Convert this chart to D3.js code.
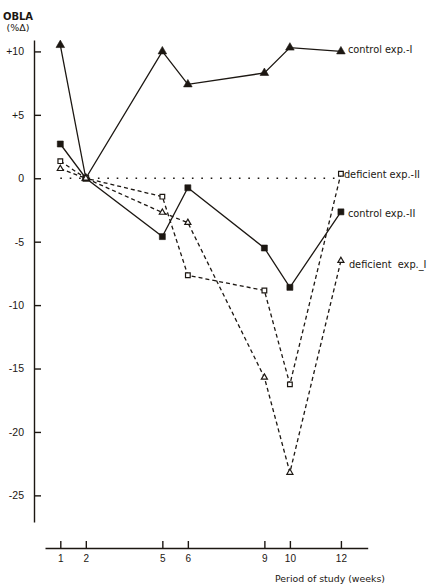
<!DOCTYPE html>
<html>
<head>
<meta charset="utf-8">
<script src="https://cdn.jsdelivr.net/npm/d3@7/dist/d3.min.js"></script>
<style>
  html, body { margin: 0; padding: 0; background: #fff; }
  svg { display: block; font-family: "Liberation Sans", Arial, sans-serif; }
</style>
</head>
<body>
<div id="chart"></div>
<script>
// weeks of study
var weeks = [1, 2, 5, 6, 9, 10, 12];

// OBLA (% change) per series
var controlExpI = [10.5, 0, 10.0, 7.4, 8.3, 10.3, 10.0];
var controlExpII = [2.7, 0, -4.6, -0.75, -5.5, -8.6, -2.65];
var deficientExpII = [1.35, 0, -1.45, -7.65, -8.85, -16.25, 0.35];
var deficientExpI = [0.75, 0, -2.7, -3.5, -15.7, -23.2, -6.5];

var yTicks = [10, 5, 0, -5, -10, -15, -20, -25];
var seriesLabels = ['control exp.-I', 'control exp.-II', 'deficient exp.-II', 'deficient  exp._I'];

(function() {
    'use strict';

    var W = 436, H = 587;
    var ink = '#1c1712';
    var labelFont = '"DejaVu Sans", Verdana, sans-serif';

    var svg = d3.select('#chart').append('svg')
        .attr('width', W).attr('height', H);

    // scales
    var x = d3.scaleLinear().domain([0.4, 13.05]).range([45, 367.7]);
    var y = d3.scaleLinear().domain([-27.1, 10.9]).range([522, 40]);

    // y axis
    var yAxis = d3.axisLeft(y)
        .tickValues(yTicks)
        .tickSize(-7)
        .tickSizeOuter(0)
        .tickPadding(10)
        .tickFormat(function(v) { return v > 0 ? '+' + v : (v < 0 ? '-' + Math.abs(v) : '0'); });

    var gy = svg.append('g').attr('transform', 'translate(34,0)').call(yAxis);
    gy.select('.domain').attr('stroke', ink).attr('stroke-width', 1.4);
    gy.selectAll('.tick line').attr('stroke', ink).attr('stroke-width', 1.4);
    gy.selectAll('.tick text').attr('fill', ink).attr('font-size', '10.5px')
        .attr('font-family', '"Liberation Sans", Arial, sans-serif');

    // x axis (ticks point up, labels below)
    var xAxis = d3.axisBottom(x)
        .tickValues(weeks)
        .tickSize(-7)
        .tickSizeOuter(0)
        .tickPadding(7)
        .tickFormat(d3.format('d'));

    var gx = svg.append('g').attr('transform', 'translate(0,548)').call(xAxis);
    gx.select('.domain').attr('stroke', ink).attr('stroke-width', 1.4);
    gx.selectAll('.tick line').attr('stroke', ink).attr('stroke-width', 1.4);
    gx.selectAll('.tick text').attr('fill', ink).attr('font-size', '10px')
        .attr('font-family', '"Liberation Sans", Arial, sans-serif');

    svg.append('text')
        .attr('x', 385).attr('y', 582)
        .attr('text-anchor', 'end')
        .attr('font-family', labelFont)
        .attr('font-size', '9.4px').attr('fill', ink)
        .text('Period of study (weeks)');

    // y title
    svg.append('text').attr('x', 18).attr('y', 20)
        .attr('text-anchor', 'middle').attr('font-size', '10px')
        .attr('font-family', labelFont)
        .attr('font-weight', 'bold').attr('fill', ink).text('OBLA');
    svg.append('text').attr('x', 18).attr('y', 31)
        .attr('text-anchor', 'middle').attr('font-size', '9.5px')
        .attr('font-family', labelFont)
        .attr('fill', ink).text('(%\u0394)');

    // zero reference, dotted
    svg.append('line')
        .attr('x1', x(weeks[0])).attr('x2', x(weeks[weeks.length - 1]))
        .attr('y1', y(0)).attr('y2', y(0))
        .attr('stroke', ink).attr('stroke-width', 1.5)
        .attr('stroke-dasharray', '1.6,7.8');

    var series = [
        {vals: controlExpI, dash: null, sym: d3.symbolTriangle, size: 32, filled: true, label: seriesLabels[0], lx: 7, ly: 2},
        {vals: controlExpII, dash: null, sym: d3.symbolSquare, size: 36, filled: true, label: seriesLabels[1], lx: 7, ly: 5},
        {vals: deficientExpII, dash: '4,3', sym: d3.symbolSquare, size: 22, filled: false, label: seriesLabels[2], lx: 3, ly: 4},
        {vals: deficientExpI, dash: '4,3', sym: d3.symbolTriangle, size: 16, filled: false, label: seriesLabels[3], lx: 8, ly: 7}
    ];

    var line = d3.line()
        .x(function(d) { return x(d[0]); })
        .y(function(d) { return y(d[1]); });

    // lines first, markers on top
    series.forEach(function(s) {
        var pts = weeks.map(function(w, i) { return [w, s.vals[i]]; });
        svg.append('path')
            .datum(pts)
            .attr('d', line)
            .attr('fill', 'none')
            .attr('stroke', ink)
            .attr('stroke-width', 1.3)
            .attr('stroke-dasharray', s.dash);
    });

    series.forEach(function(s) {
        var pts = weeks.map(function(w, i) { return [w, s.vals[i]]; });
        svg.append('g').selectAll('path')
            .data(pts).enter().append('path')
            .attr('transform', function(d) { return 'translate(' + x(d[0]) + ',' + y(d[1]) + ')'; })
            .attr('d', d3.symbol().type(s.sym).size(s.size))
            .attr('fill', s.filled ? ink : '#fff')
            .attr('stroke', ink)
            .attr('stroke-width', s.filled ? 0.6 : 1.2);

        // label beside last point
        var last = pts[pts.length - 1];
        svg.append('text')
            .attr('x', x(last[0]) + s.lx)
            .attr('y', y(last[1]) + s.ly)
            .attr('font-family', labelFont)
            .attr('font-size', '9.8px')
            .attr('fill', ink)
            .attr('xml:space', 'preserve')
            .style('white-space', 'pre')
            .text(s.label);
    });
})();
</script>
</body>
</html>
